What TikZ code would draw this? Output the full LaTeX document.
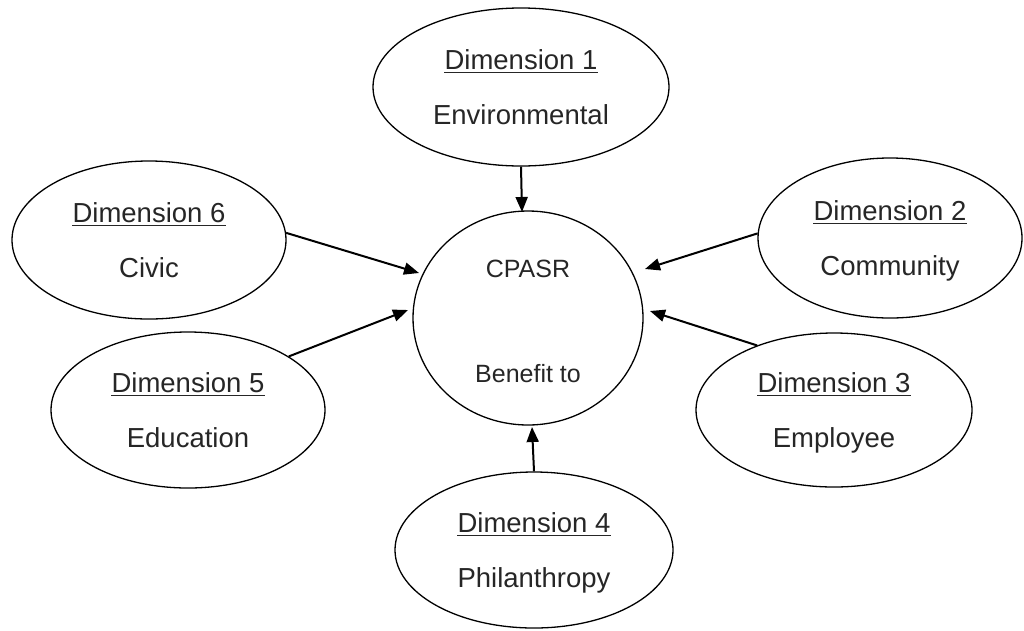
\documentclass[tikz,border=0pt]{standalone}
\usepackage{fontspec}
\setmainfont{Liberation Sans}
\usetikzlibrary{shapes.geometric,arrows.meta}
\begin{document}
\begin{tikzpicture}[x=1pt,y=-1pt,
  dimell/.style={draw=black,line width=1.3pt,ellipse,inner sep=0pt,
    minimum width=274pt,minimum height=156pt},
  dimtxt/.style={inner sep=0pt,anchor=base,font=\fontsize{27.5}{33}\selectfont,text=black!85},
  ctrtxt/.style={inner sep=0pt,anchor=base,font=\fontsize{25}{30}\selectfont,text=black!85},
  ul/.style={line width=1.3pt,black!85},
  conn/.style={line width=2pt,-{Triangle[length=15pt,width=12pt]}}]
\useasboundingbox (0,0) rectangle (1024,630);
% centre circle
\node[draw=black,line width=1.3pt,ellipse,inner sep=0pt,minimum width=230pt,minimum height=214pt] (c) at (528,318) {};
\node[ctrtxt] (ct1) at ([yshift=41pt]c.center) {CPASR};
\node[ctrtxt] (ct2) at ([yshift=-64pt]c.center) {Benefit to};
% dimension ellipses
\node[dimell,minimum width=296pt,minimum height=158pt] (e1) at (521,87) {};
\node[dimell,minimum width=264pt,minimum height=160pt] (e2) at (890,238) {};
\node[dimell,minimum width=276pt,minimum height=154pt] (e3) at (834,410) {};
\node[dimell,minimum width=278pt,minimum height=156pt] (e4) at (534,550) {};
\node[dimell,minimum width=274pt,minimum height=156pt] (e5) at (188,410) {};
\node[dimell,minimum width=274pt,minimum height=158pt] (e6) at (149,240) {};
% texts
\foreach \e/\n/\t in {e1/1/Environmental,e2/2/Community,e3/3/Employee,e4/4/Philanthropy,e5/5/Education,e6/6/Civic}{
  \node[dimtxt] (d\n) at ([yshift=18pt]\e.center) {Dimension \n};
  \draw[ul] ([yshift=-3.5pt]d\n.base west) -- ([yshift=-3.5pt]d\n.base east);
  \node[dimtxt] (n\n) at ([yshift=-37pt]\e.center) {\t};
}
% arrow tips
\coordinate (t1) at (522,212);
\coordinate (t2) at (645,269);
\coordinate (t3) at (650,311);
\coordinate (t4) at (532,427);
\coordinate (t5) at (408,310);
\coordinate (t6) at (419,273);
\draw[conn] (e1.south) -- (t1);
\draw[conn] (e2.178) -- (t2);
\draw[conn] (e3.140) -- (t3);
\draw[conn] (e4.north) -- (t4);
\draw[conn] (e5.28.6) -- (t5);
\draw[conn] (e6.3.4) -- (t6);
\end{tikzpicture}
\end{document}
